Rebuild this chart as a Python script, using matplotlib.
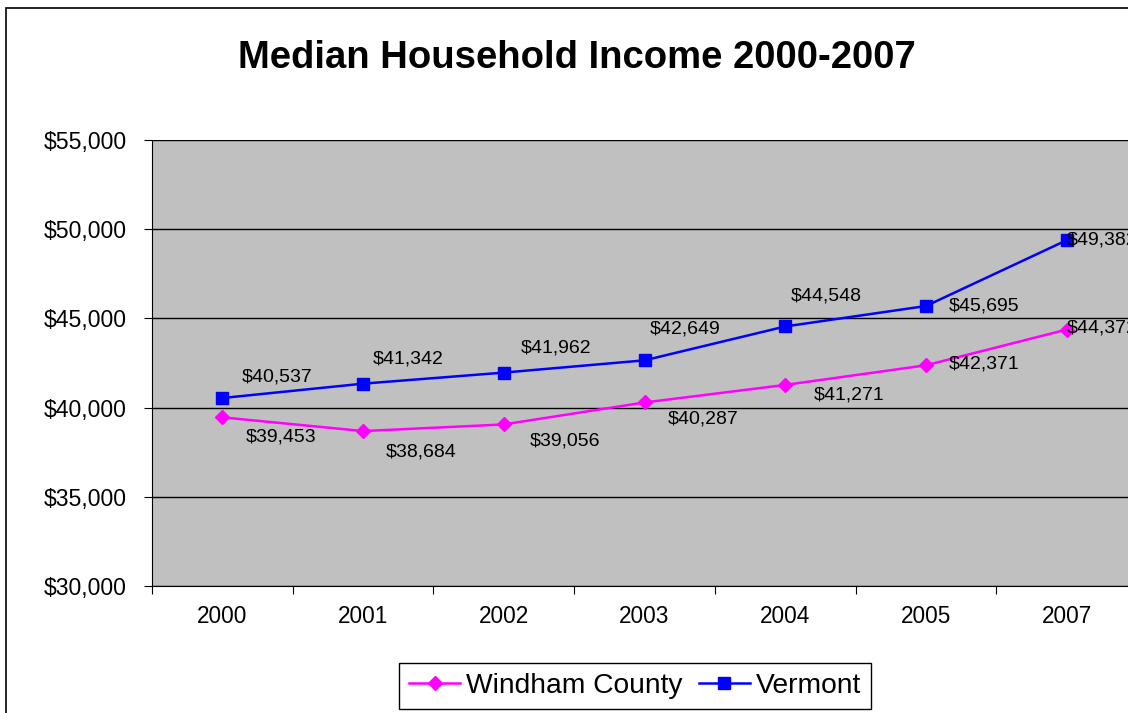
import matplotlib.pyplot as plt
from matplotlib.patches import Rectangle

plt.rcParams['font.family'] = ['Liberation Sans', 'DejaVu Sans']

years = ['2000', '2001', '2002', '2003', '2004', '2005', '2007']
windham = [39453, 38684, 39056, 40287, 41271, 42371, 44372]
vermont = [40537, 41342, 41962, 42649, 44548, 45695, 49382]

# label offsets in pixels (left edge, vertical centre) relative to each point
windham_offsets = [(23, -20), (23, -21), (26, -17), (23, -17), (29, -10), (23, 1), (0, 2)]
vermont_offsets = [(19, 21), (10, 25), (17, 25), (5, 31), (6, 30), (23, 0), (0, 0)]

fig = plt.figure(figsize=(11.28, 7.13), dpi=100)
ax = fig.add_axes([152 / 1128, 127 / 713, 985 / 1128, 446 / 713])
ax.set_facecolor('#C0C0C0')

x = list(range(len(years)))
ax.plot(x, windham, color='#FF00FF', lw=1.8, marker='D', markersize=7,
        label='Windham County', zorder=3, clip_on=False)
ax.plot(x, vermont, color='#0000FF', lw=1.8, marker='s', markersize=8,
        label='Vermont', zorder=3, clip_on=False)

for xi, v, off in zip(x, windham, windham_offsets):
    ax.annotate(f'${v:,}', (xi, v), xytext=off, textcoords='offset pixels',
                ha='left', va='center', fontsize=14, zorder=4, annotation_clip=False)
for xi, v, off in zip(x, vermont, vermont_offsets):
    ax.annotate(f'${v:,}', (xi, v), xytext=off, textcoords='offset pixels',
                ha='left', va='center', fontsize=14, zorder=4, annotation_clip=False)

ax.set_xlim(-0.5, len(years) - 0.5)
ax.set_ylim(30000, 55000)
ax.set_yticks(range(30000, 55001, 5000))
ax.set_yticklabels([f'${t:,}' for t in range(30000, 55001, 5000)], fontsize=16.6)
ax.yaxis.grid(True, color='black', lw=1)
ax.set_axisbelow(True)

ax.set_xticks([i - 0.5 for i in range(len(years) + 1)])
ax.set_xticklabels([])
ax.set_xticks(x, minor=True)
ax.set_xticklabels(years, minor=True, fontsize=16.3)
ax.tick_params(axis='x', which='minor', length=0, pad=14)
ax.tick_params(axis='x', which='major', length=6, direction='out')
ax.tick_params(axis='y', length=6, direction='out', pad=12)

for side in ['top', 'right']:
    ax.spines[side].set_visible(False)
ax.spines['left'].set_color('black')
ax.spines['bottom'].set_color('black')

fig.text(577 / 1128, 1 - 58 / 713, 'Median Household Income 2000-2007',
         ha='center', va='center', fontsize=27.5, fontweight='bold')

leg = fig.legend(loc='center', bbox_to_anchor=(635 / 1128, 1 - 686 / 713), ncol=2,
                 fontsize=20.3, frameon=True, fancybox=False, edgecolor='black',
                 framealpha=1, handlelength=1.8, handletextpad=0.2,
                 columnspacing=0.6, borderpad=0.35)
leg.get_frame().set_linewidth(1)

fig.patches.append(Rectangle((6 / 1128, -0.1), 2, 1 - 8 / 713 + 0.1,
                             transform=fig.transFigure, fill=False,
                             edgecolor='black', lw=1.2))

fig.savefig('out.png', dpi=100)
